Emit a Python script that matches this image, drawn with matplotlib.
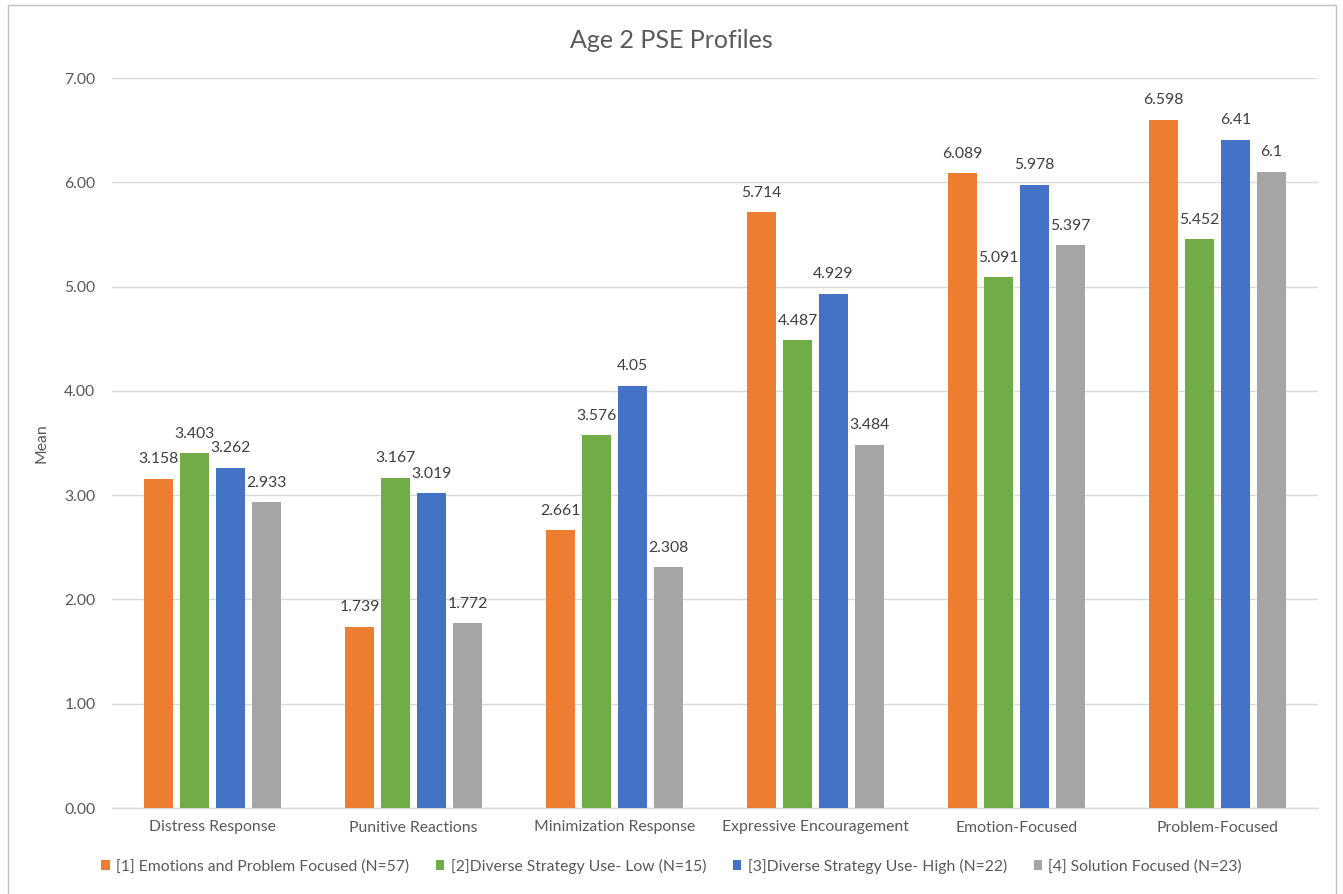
import matplotlib
matplotlib.use("Agg")
import matplotlib.pyplot as plt
from matplotlib.patches import Rectangle, Patch
import numpy as np

categories = ["Distress Response", "Punitive Reactions", "Minimization Response",
              "Expressive Encouragement", "Emotion-Focused", "Problem-Focused"]
series_names = ["[1] Emotions and Problem Focused (N=57)",
                "[2]Diverse Strategy Use- Low (N=15)",
                "[3]Diverse Strategy Use- High (N=22)",
                "[4] Solution Focused (N=23)"]
group1 = [3.158, 1.739, 2.661, 5.714, 6.089, 6.598]
group2 = [3.403, 3.167, 3.576, 4.487, 5.091, 5.452]
group3 = [3.262, 3.019, 4.05, 4.929, 5.978, 6.41]
group4 = [2.933, 1.772, 2.308, 3.484, 5.397, 6.1]
label_text = [
    ["3.158", "1.739", "2.661", "5.714", "6.089", "6.598"],
    ["3.403", "3.167", "3.576", "4.487", "5.091", "5.452"],
    ["3.262", "3.019", "4.05", "4.929", "5.978", "6.41"],
    ["2.933", "1.772", "2.308", "3.484", "5.397", "6.1"],
]
y_ticks = [0, 1, 2, 3, 4, 5, 6, 7]

colors = ["#ED7D31", "#70AD47", "#4472C4", "#A5A5A5"]
text_color = "#595959"
grid_color = "#D9D9D9"

plt.rcParams["font.family"] = ["Lato", "DejaVu Sans"]

W, H = 1343, 894
fig = plt.figure(figsize=(W / 100, H / 100), dpi=100)

# chart outer border
fig.patches.append(Rectangle((8 / W, -0.05), (1336 - 8) / W, 1.05 - 5 / H,
                             transform=fig.transFigure, fill=False,
                             edgecolor="#BFBFBF", linewidth=1.0))

ax = fig.add_axes([112 / W, 1 - 808 / H, (1318 - 112) / W, (808 - 78) / H])

series = [group1, group2, group3, group4]
x = np.arange(len(categories))
step = 0.179
width = 0.14
for i, (vals, col) in enumerate(zip(series, colors)):
    pos = x + (i - 1.5) * step
    ax.bar(pos, vals, width=width, color=col, zorder=3, label=series_names[i])
    for px, v, t in zip(pos, vals, label_text[i]):
        ax.annotate(t, (px, v), xytext=(0, 9), textcoords="offset points",
                    ha="center", va="bottom", fontsize=11.3, color="#404040")

ax.set_xlim(-0.5, len(categories) - 0.5)
ax.set_ylim(0, 7)
ax.set_yticks(y_ticks)
ax.set_yticklabels([f"{t:.2f}" for t in y_ticks])
ax.set_xticks(x)
ax.set_xticklabels(categories)
ax.tick_params(axis="both", length=0, labelsize=11.3, colors=text_color)
ax.tick_params(axis="y", pad=12)
ax.tick_params(axis="x", pad=9)
ax.grid(axis="y", color=grid_color, linewidth=1, zorder=0)
for s in ["top", "right", "left"]:
    ax.spines[s].set_visible(False)
ax.spines["bottom"].set_color(grid_color)
ax.spines["bottom"].set_linewidth(1)

ax.set_ylabel("Mean", fontsize=11.3, color=text_color)
ax.yaxis.set_label_coords(-64 / (1318 - 112), 0.5)

fig.text(0.5, 1 - 40 / H, "Age 2 PSE Profiles", ha="center", va="center",
         fontsize=18, color=text_color)

handles = [Patch(facecolor=c) for c in colors]
fig.legend(handles, series_names, loc="center", bbox_to_anchor=(0.5, 1 - 866 / H),
           ncol=4, frameon=False, fontsize=11.3, labelcolor=text_color,
           handlelength=0.55, handleheight=0.55, handletextpad=0.4, columnspacing=1.7)

fig.savefig("out.png", dpi=100, facecolor="white")
